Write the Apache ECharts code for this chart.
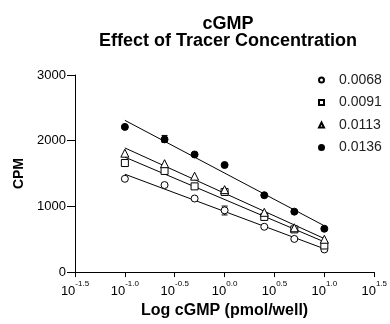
<!DOCTYPE html>
<html>
<head>
<meta charset="utf-8">
<script src="https://cdn.jsdelivr.net/npm/echarts@6/dist/echarts.min.js"></script>
<style>
html,body{margin:0;padding:0;background:#fff;}
#chart{width:390px;height:324px;}
</style>
</head>
<body>
<div id="chart"></div>
<script>
// ---- data ----
const seriesNames = ['0.0068', '0.0091', '0.0113', '0.0136'];
const doses = [0.1, 0.25, 0.5, 1, 2.5, 5, 10]; // pmol/well
const cpm0068 = [1420, 1325, 1120, 940, 690, 505, 345];
const cpm0091 = [1660, 1540, 1305, 1220, 840, 650, 405];
const cpm0113 = [1810, 1650, 1460, 1255, 910, 675, 500];
const cpm0136 = [2210, 2020, 1790, 1630, 1170, 920, 660];
// fitted line end points (at 10^-1 and 10^1)
const fitDoseRange = [0.1, 10];
const fitStart = [1490, 1750, 1890, 2310];
const fitEnd = [355, 460, 510, 705];
// error bars: dose, low, high
const errDose = [0.25, 1];
const errLow = [1975, 870];
const errHigh = [2080, 1005];
const xTickExponents = ['-1.5', '-1.0', '-0.5', '0.0', '0.5', '1.0', '1.5'];
const yTicks = [0, 1000, 2000, 3000];

const FONT = 'Liberation Sans, Arial, sans-serif';
const symbols = ['circle', 'rect', 'triangle', 'circle'];
const fills = ['#fff', '#fff', '#fff', '#000'];
const sizes = [7, 7, 8, 7];
const allCpm = [cpm0068, cpm0091, cpm0113, cpm0136];

const series = [];
for (let i = 0; i < 4; i++) {
  series.push({
    type: 'line', silent: true, symbol: 'none',
    lineStyle: {color: '#000', width: 1},
    data: [[Math.log10(fitDoseRange[0]), fitStart[i]], [Math.log10(fitDoseRange[1]), fitEnd[i]]],
    z: 2
  });
}
series.push({
  type: 'custom', silent: true, z: 3,
  data: errDose.map((d, i) => [Math.log10(d), errLow[i], errHigh[i]]),
  renderItem: function (params, api) {
    const lo = api.coord([api.value(0), api.value(1)]);
    const hi = api.coord([api.value(0), api.value(2)]);
    const w = 3;
    const st = {stroke: '#000', lineWidth: 1};
    return {type: 'group', children: [
      {type: 'line', shape: {x1: lo[0], y1: lo[1], x2: hi[0], y2: hi[1]}, style: st},
      {type: 'line', shape: {x1: lo[0] - w, y1: lo[1], x2: lo[0] + w, y2: lo[1]}, style: st},
      {type: 'line', shape: {x1: hi[0] - w, y1: hi[1], x2: hi[0] + w, y2: hi[1]}, style: st}
    ]};
  }
});
for (let i = 0; i < 4; i++) {
  series.push({
    name: seriesNames[i], type: 'scatter', symbol: symbols[i], symbolSize: sizes[i],
    itemStyle: {color: fills[i], borderColor: '#000', borderWidth: 1, opacity: 1},
    data: doses.map((d, j) => [Math.log10(d), allCpm[i][j]]),
    z: 5
  });
}

const chart = echarts.init(document.getElementById('chart'), null, {renderer: 'canvas'});
chart.setOption({
  animation: false,
  backgroundColor: '#fff',
  title: {
    text: 'cGMP\nEffect of Tracer Concentration',
    left: 223, top: 10, textAlign: 'center',
    textStyle: {fontFamily: FONT, fontSize: 18, fontWeight: 'bold', color: '#000', lineHeight: 17.5}
  },
  legend: {
    orient: 'vertical', left: 313, top: 68, itemGap: 8.5,
    itemWidth: 5, itemHeight: 5,
    data: seriesNames,
    textStyle: {fontFamily: FONT, fontSize: 14, color: '#222', padding: [0, 0, 0, 10]}
  },
  grid: {left: 75, right: 14.5, top: 75, bottom: 51.3, containLabel: false},
  xAxis: {
    type: 'value', min: -1.5, max: 1.5, interval: 0.5,
    name: 'Log cGMP (pmol/well)', nameLocation: 'middle', nameGap: 27,
    nameTextStyle: {fontFamily: FONT, fontSize: 16, fontWeight: 'bold', color: '#000'},
    axisLine: {onZero: false, lineStyle: {color: '#000', width: 1}},
    axisTick: {show: true, length: 5, lineStyle: {color: '#000'}},
    splitLine: {show: false},
    axisLabel: {
      margin: 8,
      lineHeight: 18,
      formatter: function (v) {
        const idx = Math.round((v + 1.5) / 0.5);
        return '{b|10}{s|' + xTickExponents[idx] + '}';
      },
      rich: {
        b: {fontFamily: FONT, fontSize: 13, color: '#000', verticalAlign: 'bottom', lineHeight: 18},
        s: {fontFamily: FONT, fontSize: 8, color: '#000', verticalAlign: 'top', lineHeight: 18}
      }
    }
  },
  yAxis: {
    type: 'value', min: yTicks[0], max: yTicks[yTicks.length - 1], interval: 1000,
    name: 'CPM', nameLocation: 'middle', nameGap: 49, nameRotate: 90,
    nameTextStyle: {fontFamily: FONT, fontSize: 14, fontWeight: 'bold', color: '#000'},
    axisLine: {show: true, onZero: false, lineStyle: {color: '#000', width: 1}},
    axisTick: {show: true, length: 8, lineStyle: {color: '#000'}},
    splitLine: {show: false},
    axisLabel: {margin: 9, fontFamily: FONT, fontSize: 13, color: '#000', formatter: function (v) { return String(v); }}
  },
  series: series
});
</script>
</body>
</html>
